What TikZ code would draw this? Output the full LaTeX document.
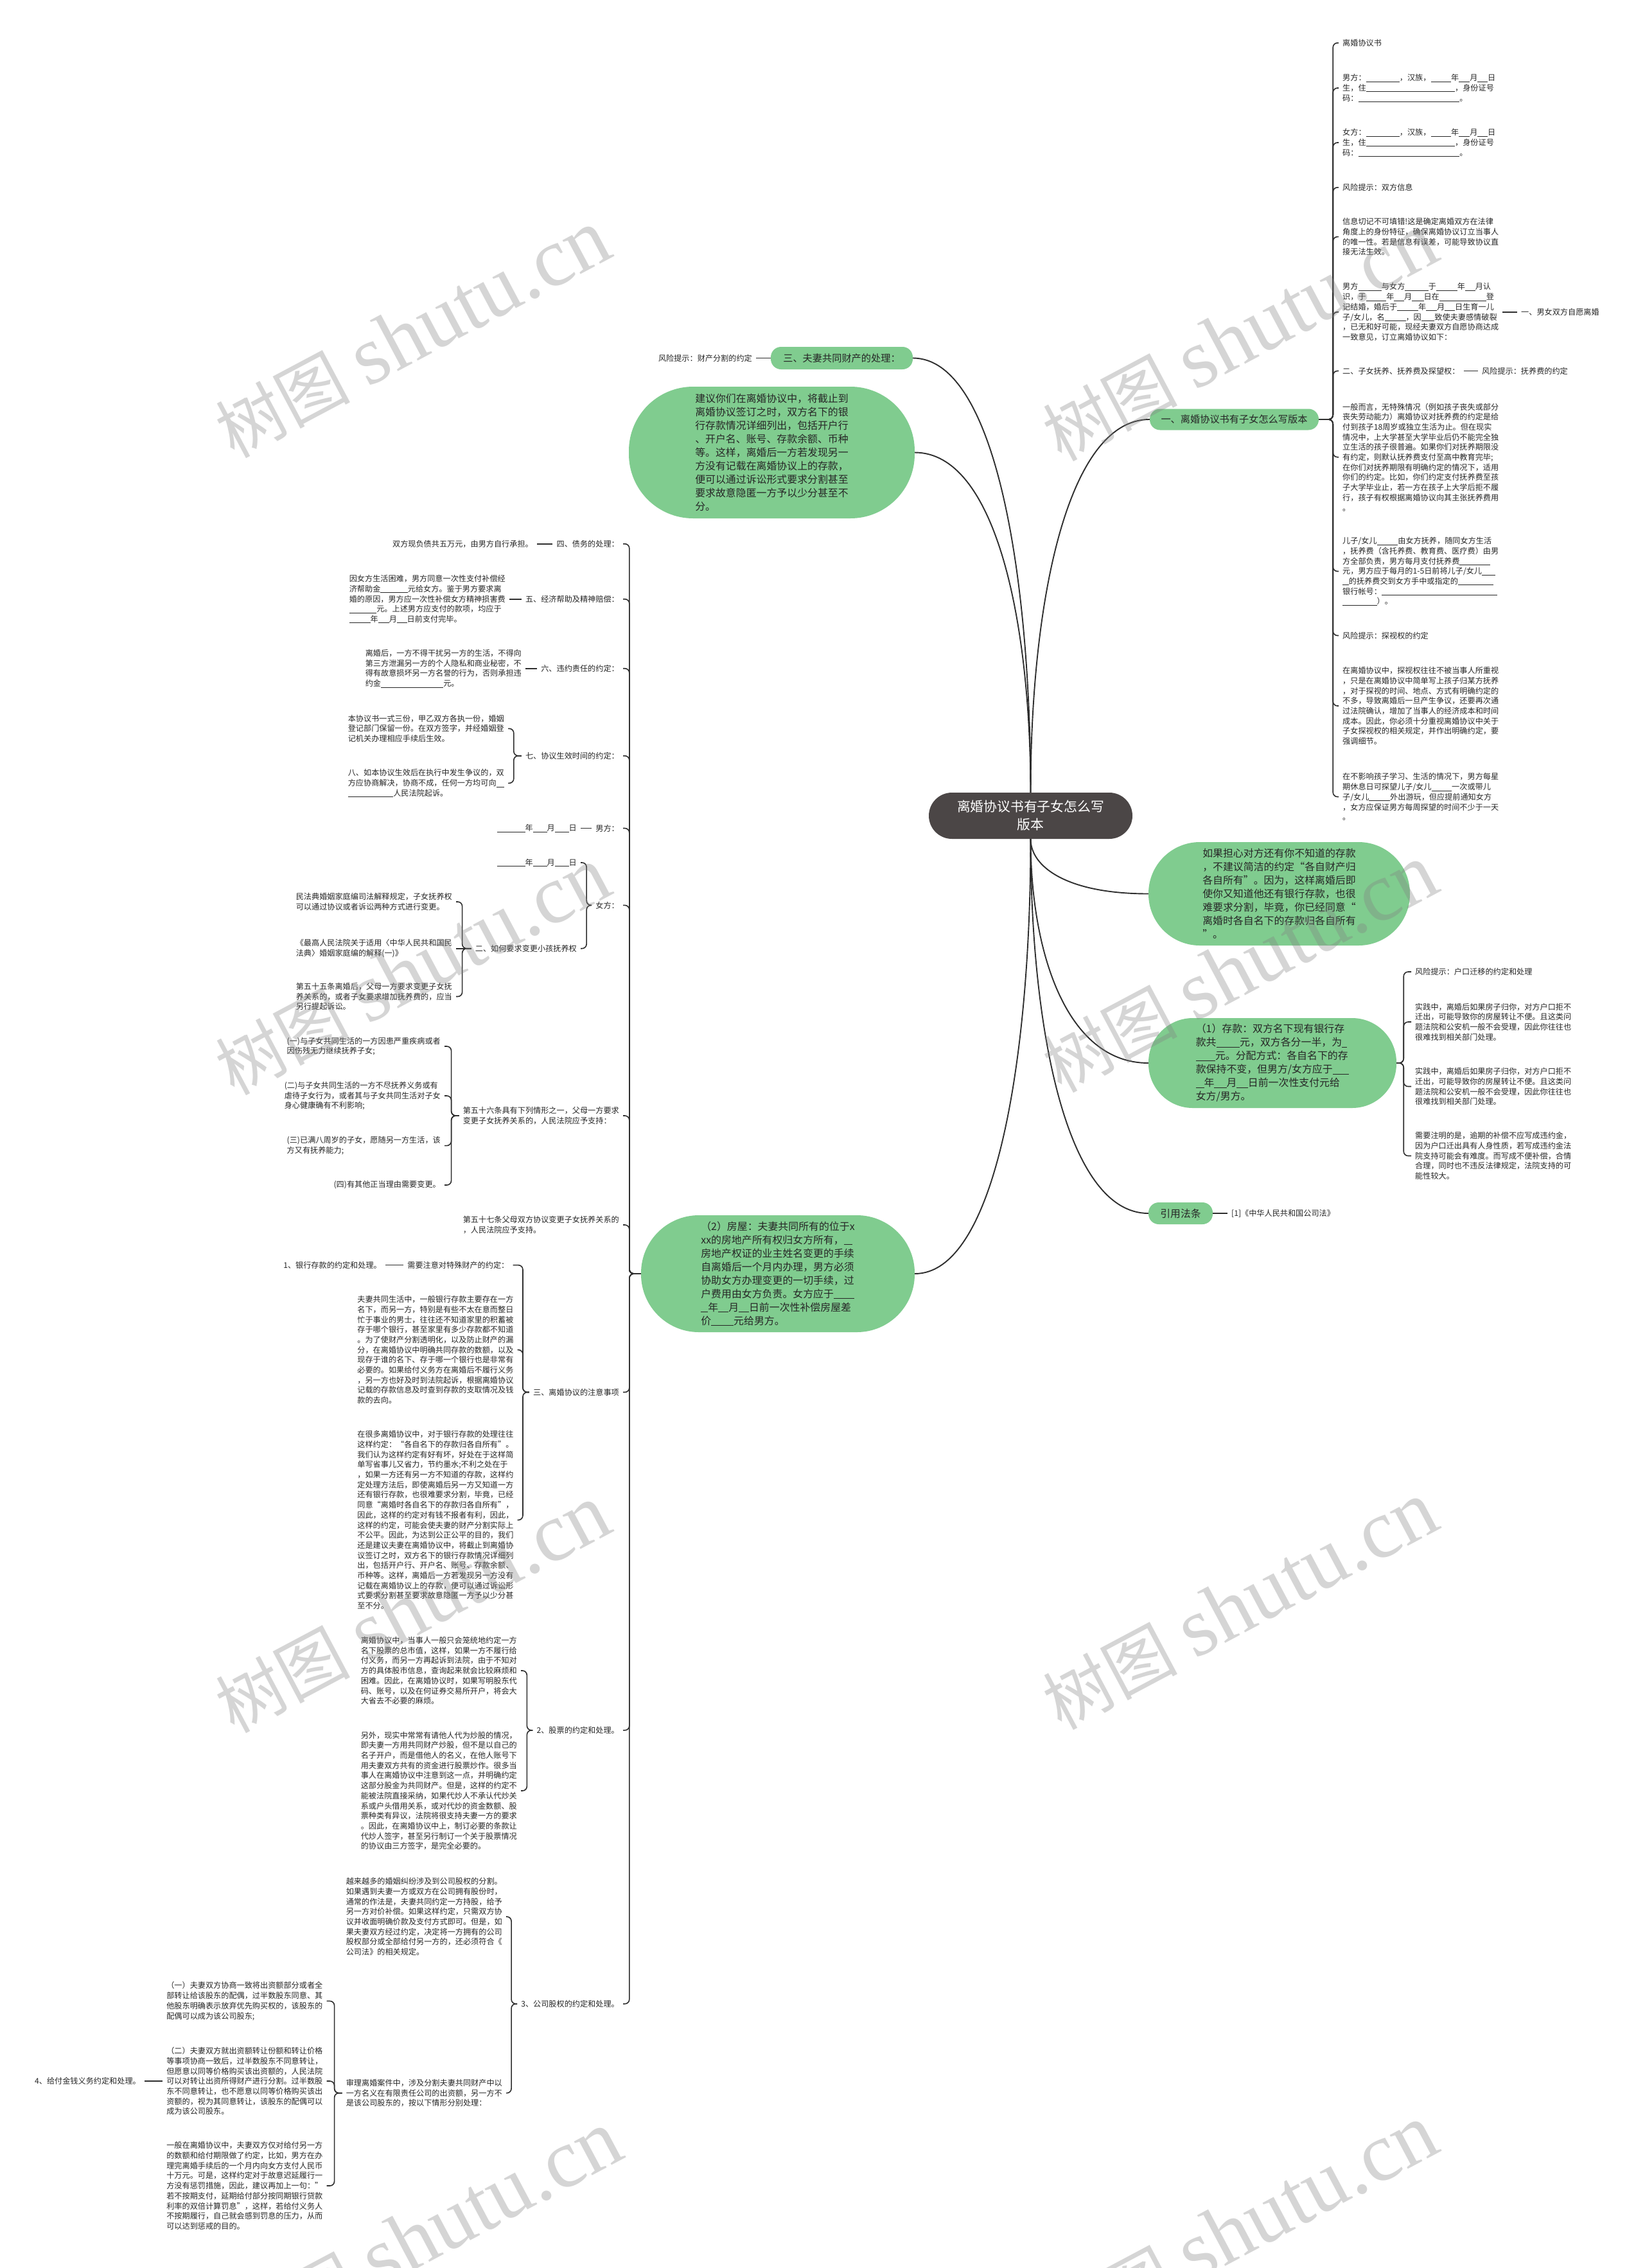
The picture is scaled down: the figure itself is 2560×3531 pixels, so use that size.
\documentclass[tikz,border=0pt]{standalone}
\usepackage{fontspec}
\setmainfont{Noto Sans CJK SC}
\newfontfamily\wmlat{Liberation Serif}
\usetikzlibrary{calc}
\definecolor{bubgreen}{HTML}{80CC8F}
\definecolor{rootfill}{HTML}{4B4646}
\definecolor{linec}{HTML}{2E2E2E}
\definecolor{txtc}{HTML}{262626}
\newcommand\bl[1]{\rule[-1.6pt]{#1em}{0.7pt}}
\newcommand\rbr[3]{\draw[conn] (#1.east) -- ++(#3,0) |- (#2.west);}
\newcommand\lbr[3]{\draw[conn] (#1.west) -- ++(-#3,0) |- (#2.east);}
\newcommand\redge[2]{\draw[edge] (#1) .. controls ($(#1)!0.5!(#1|-#2)$) and ($(#1|-#2)!0.3!(#2)$) .. (#2);}
\begin{document}
\begin{tikzpicture}[x=1pt,y=-1pt,
  txt/.style={font=\fontsize{12.15}{15.7}\selectfont, align=left, inner xsep=6pt, inner ysep=2pt, text=txtc},
  bub/.style={fill=bubgreen, font=\fontsize{15.9}{21}\selectfont, align=left, inner sep=0pt, text=txtc},
  pill/.style={fill=bubgreen, font=\fontsize{15.2}{18}\selectfont, inner sep=0pt, rounded corners=16pt, text=txtc},
  conn/.style={draw=linec, line width=1.6pt, rounded corners=7pt},
  edge/.style={draw=linec, line width=1.9pt},
  wm/.style={text=gray, opacity=0.33, rotate=28, font=\fontsize{105}{105}\selectfont, inner sep=0pt}]
\fill[white] (0,0) rectangle (2560,3531);
\useasboundingbox (0,0) rectangle (2560,3531);

% root
\node[fill=rootfill, text=white, rounded corners=36pt, minimum width=317pt, minimum height=72pt, align=center, font=\fontsize{20.8}{28}\selectfont, inner sep=0pt] (root) at (1604.5,1270) {离婚协议书有子女怎么写\\版本};

% ---------- right upper branch ----------
\node[pill, minimum width=263pt, minimum height=33pt] (pr) at (1921.5,653) {一、离婚协议书有子女怎么写版本};
\node[txt,anchor=west] (r1) at (2084,66.8) {离婚协议书};
\node[txt,anchor=west] (r2) at (2084,137) {男方：\bl{4.3}，汉族，\bl{2.6}年\bl{1.4}月\bl{1.3}日\\生，住\bl{11.4}，身份证号\\码：\bl{13}。};
\node[txt,anchor=west] (r3) at (2084,222) {女方：\bl{4.3}，汉族，\bl{2.6}年\bl{1.4}月\bl{1.3}日\\生，住\bl{11.4}，身份证号\\码：\bl{13}。};
\node[txt,anchor=west] (r4) at (2084,291.8) {风险提示：双方信息};
\node[txt,anchor=west] (r5) at (2084,368.6) {信息切记不可填错!这是确定离婚双方在法律\\角度上的身份特征，确保离婚协议订立当事人\\的唯一性。若是信息有误差，可能导致协议直\\接无法生效。};
\node[txt,anchor=west] (r6) at (2084,485.7) {男方\bl{3}与女方\bl{3}于\bl{2.7}年\bl{1.3}月认\\识，于\bl{2.6}年\bl{1.3}月\bl{1.5}日在\bl{6}登\\记结婚，婚后于\bl{2.7}年\bl{1.4}月\bl{1.3}日生育一儿\\子/女儿，名\bl{2.7}，因\bl{1.7}致使夫妻感情破裂\\，已无和好可能，现经夫妻双方自愿协商达成\\一致意见，订立离婚协议如下：};
\node[txt,anchor=west] (r6a) at (2362,485.7) {一、男女双方自愿离婚};
\node[txt,anchor=west] (r7) at (2084,577.5) {二、子女抚养、抚养费及探望权：};
\node[txt,anchor=west] (r7a) at (2301,577.5) {风险提示：抚养费的约定};
\node[txt,anchor=west] (r8) at (2084,711.7) {一般而言，无特殊情况（例如孩子丧失或部分\\丧失劳动能力）离婚协议对抚养费的约定是给\\付到孩子18周岁或独立生活为止。但在现实\\情况中，上大学甚至大学毕业后仍不能完全独\\立生活的孩子很普遍。如果你们对抚养期限没\\有约定，则默认抚养费支付至高中教育完毕;\\在你们对抚养期限有明确约定的情况下，适用\\你们的约定。比如，你们约定支付抚养费至孩\\子大学毕业止，若一方在孩子上大学后拒不履\\行，孩子有权根据离婚协议向其主张抚养费用\\。};
\node[txt,anchor=west] (r9) at (2084,889.5) {儿子/女儿\bl{2.7}由女方抚养，随同女方生活\\，抚养费（含托养费、教育费、医疗费）由男\\方全部负责，男方每月支付抚养费\bl{3.9}\\元，男方应于每月的1-5日前将儿子/女儿\bl{1.7}\\\bl{0.8}的抚养费交到女方手中或指定的\bl{4.5}\\银行帐号：\bl{14.8}\\\bl{4.4}）。};
\node[txt,anchor=west] (r10) at (2084,989.5) {风险提示：探视权的约定};
\node[txt,anchor=west] (r11) at (2084,1099) {在离婚协议中，探视权往往不被当事人所重视\\，只是在离婚协议中简单写上孩子归某方抚养\\，对于探视的时间、地点、方式有明确约定的\\不多，导致离婚后一旦产生争议，还要再次通\\过法院确认，增加了当事人的经济成本和时间\\成本。因此，你必须十分重视离婚协议中关于\\子女探视权的相关规定，并作出明确约定，要\\强调细节。};
\node[txt,anchor=west] (r12) at (2084,1240.5) {在不影响孩子学习、生活的情况下，男方每星\\期休息日可探望儿子/女儿\bl{2.6}一次或带儿\\子/女儿\bl{2.7}外出游玩，但应提前通知女方\\，女方应保证男方每周探望的时间不少于一天\\。};
\foreach \c in {r1,r2,r3,r4,r5,r6,r7,r8,r9,r10,r11,r12} {\rbr{pr}{\c}{22}}
\draw[conn] (r6.east) -- (r6a.west);
\draw[conn] (r7.east) -- (r7a.west);

% ---------- right bubbles ----------
\node[bub, minimum width=407pt, minimum height=161pt, rounded corners=80pt] (b1) at (1991.5,1391.5) {如果担心对方还有你不知道的存款\\，不建议简洁的约定“各自财产归\\各自所有”。因为，这样离婚后即\\使你又知道他还有银行存款，也很\\难要求分割，毕竟，你已经同意“\\离婚时各自名下的存款归各自所有\\”。};
\node[bub, minimum width=386pt, minimum height=140pt, rounded corners=69pt] (b2) at (1981,1655) {（1）存款：双方名下现有银行存\\款共\bl{2.3}元，双方各分一半，为\bl{0.5}\\\bl{1.9}元。分配方式：各自名下的存\\款保持不变，但男方/女方应于\bl{1.6}\\\bl{0.8}年\bl{1.2}月\bl{1.1}日前一次性支付元给\\女方/男方。};
\node[txt,anchor=west] (s1) at (2197,1513) {风险提示：户口迁移的约定和处理};
\node[txt,anchor=west] (s2) at (2197,1591) {实践中，离婚后如果房子归你，对方户口拒不\\迁出，可能导致你的房屋转让不便。且这类问\\题法院和公安机一般不会受理，因此你往往也\\很难找到相关部门处理。};
\node[txt,anchor=west] (s3) at (2197,1691.5) {实践中，离婚后如果房子归你，对方户口拒不\\迁出，可能导致你的房屋转让不便。且这类问\\题法院和公安机一般不会受理，因此你往往也\\很难找到相关部门处理。};
\node[txt,anchor=west] (s4) at (2197,1799.5) {需要注明的是，逾期的补偿不应写成违约金，\\因为户口迁出具有人身性质，若写成违约金法\\院支持可能会有难度。而写成不便补偿，合情\\合理，同时也不违反法律规定，法院支持的可\\能性较大。};
\foreach \c in {s1,s2,s3,s4} {\rbr{b2}{\c}{11}}
\node[pill, minimum width=100pt, minimum height=34pt, font=\fontsize{15.8}{18}\selectfont] (yf) at (1838,1889) {引用法条};
\node[txt,anchor=west] (yf1) at (1911,1889) {[1]《中华人民共和国公司法》};
\draw[conn] (yf.east) -- (yf1.west);

% ---------- left upper ----------
\node[pill, minimum width=221pt, minimum height=35pt] (p3) at (1310.5,557.5) {三、夫妻共同财产的处理：};
\node[txt,anchor=east] (p3a) at (1177,557.5) {风险提示：财产分割的约定};
\draw[conn] (p3.west) -- (p3a.east);
\node[bub, minimum width=445pt, minimum height=205pt, rounded corners=100pt] (b3) at (1201.5,704.5) {建议你们在离婚协议中，将截止到\\离婚协议签订之时，双方名下的银\\行存款情况详细列出，包括开户行\\、开户名、账号、存款余额、币种\\等。这样，离婚后一方若发现另一\\方没有记载在离婚协议上的存款，\\便可以通过诉讼形式要求分割甚至\\要求故意隐匿一方予以少分甚至不\\分。};

% ---------- left lower big branch ----------
\node[bub, minimum width=426pt, minimum height=182pt, rounded corners=90pt] (b4) at (1211,1983) {（2）房屋：夫妻共同所有的位于x\\xx的房地产所有权归女方所有，\bl{0.8}\\房地产权证的业主姓名变更的手续\\自离婚后一个月内办理，男方必须\\协助女方办理变更的一切手续，过\\户费用由女方负责。女方应于\bl{2}\\\bl{0.7}年\bl{1}月\bl{1}日前一次性补偿房屋差\\价\bl{2.2}元给男方。};

\node[txt,anchor=east] (l1) at (970,846.7) {四、债务的处理：};
\node[txt,anchor=east] (l1a) at (836,846.7) {双方现负债共五万元，由男方自行承担。};
\node[txt,anchor=east] (l2) at (970,932.7) {五、经济帮助及精神赔偿：};
\node[txt,anchor=east] (l2a) at (793,932.7) {因女方生活困难，男方同意一次性支付补偿经\\济帮助金\bl{3.5}元给女方。鉴于男方要求离\\婚的原因，男方应一次性补偿女方精神损害费\\\bl{3.5}元。上述男方应支付的款项，均应于\\\bl{2.7}年\bl{1.4}月\bl{1.3}日前支付完毕。};
\node[txt,anchor=east] (l3) at (970,1040.7) {六、违约责任的约定：};
\node[txt,anchor=east] (l3a) at (818,1040.7) {离婚后，一方不得干扰另一方的生活，不得向\\第三方泄漏另一方的个人隐私和商业秘密，不\\得有故意损坏另一方名誉的行为，否则承担违\\约金\bl{8}元。};
\node[txt,anchor=east] (l4) at (970,1176.7) {七、协议生效时间的约定：};
\node[txt,anchor=east] (l4a) at (791,1134.3) {本协议书一式三份，甲乙双方各执一份，婚姻\\登记部门保留一份。在双方签字，并经婚姻登\\记机关办理相应手续后生效。};
\node[txt,anchor=east] (l4b) at (791,1219.3) {八、如本协议生效后在执行中发生争议的，双\\方应协商解决，协商不成，任何一方均可向\bl{1}\\\bl{5.8}人民法院起诉。};
\node[txt,anchor=east] (l5) at (970,1289.5) {男方：};
\node[txt,anchor=east] (l5a) at (904,1289.5) {\bl{3.6}年\bl{1.8}月\bl{1.8}日};
\node[txt,anchor=east] (l6) at (970,1409.4) {女方：};
\node[txt,anchor=east] (l6a) at (904,1343) {\bl{3.6}年\bl{1.8}月\bl{1.8}日};
\node[txt,anchor=east] (l6b) at (904,1476.7) {二、如何要求变更小孩抚养权};
\node[txt,anchor=east] (m1) at (710,1404) {民法典婚姻家庭编司法解释规定，子女抚养权\\可以通过协议或者诉讼两种方式进行变更。};
\node[txt,anchor=east] (m2) at (710,1476.7) {《最高人民法院关于适用〈中华人民共和国民\\法典〉婚姻家庭编的解释(一)》};
\node[txt,anchor=east] (m3) at (710,1551.5) {第五十五条离婚后，父母一方要求变更子女抚\\养关系的，或者子女要求增加抚养费的，应当\\另行提起诉讼。};
\node[txt,anchor=east] (l7) at (970,1737) {第五十六条具有下列情形之一，父母一方要求\\变更子女抚养关系的，人民法院应予支持：};
\node[txt,anchor=east] (n1) at (692,1629) {(一)与子女共同生活的一方因患严重疾病或者\\因伤残无力继续抚养子女;};
\node[txt,anchor=east] (n2) at (692,1706) {(二)与子女共同生活的一方不尽抚养义务或有\\虐待子女行为，或者其与子女共同生活对子女\\身心健康确有不利影响;};
\node[txt,anchor=east] (n3) at (692,1783.6) {(三)已满八周岁的子女，愿随另一方生活，该\\方又有抚养能力;};
\node[txt,anchor=east] (n4) at (692,1845) {(四)有其他正当理由需要变更。};
\node[txt,anchor=east] (l8) at (970,1907) {第五十七条父母双方协议变更子女抚养关系的\\，人民法院应予支持。};
\node[txt,anchor=east] (l9) at (970,2167.5) {三、离婚协议的注意事项};
\node[txt,anchor=east] (o1) at (798.5,1969.6) {需要注意对特殊财产的约定：};
\node[txt,anchor=east] (o1a) at (600,1969.6) {1、银行存款的约定和处理。};
\node[txt,anchor=east] (o2) at (805.6,2101.5) {夫妻共同生活中，一般银行存款主要存在一方\\名下，而另一方，特别是有些不太在意而整日\\忙于事业的男士，往往还不知道家里的积蓄被\\存于哪个银行，甚至家里有多少存款都不知道\\。为了使财产分割透明化，以及防止财产的漏\\分，在离婚协议中明确共同存款的数额，以及\\现存于谁的名下、存于哪一个银行也是非常有\\必要的。如果给付义务方在离婚后不履行义务\\，另一方也好及时到法院起诉，根据离婚协议\\记载的存款信息及时查到存款的支取情况及钱\\款的去向。};
\node[txt,anchor=east] (o3) at (805.6,2366.5) {在很多离婚协议中，对于银行存款的处理往往\\这样约定：“各自名下的存款归各自所有”。\\我们认为这样约定有好有坏，好处在于这样简\\单写省事儿又省力，节约墨水;不利之处在于\\，如果一方还有另一方不知道的存款，这样约\\定处理方法后，即使离婚后另一方又知道一方\\还有银行存款，也很难要求分割，毕竟，已经\\同意“离婚时各自名下的存款归各自所有”，\\因此，这样的约定对有钱不报者有利，因此，\\这样的约定，可能会使夫妻的财产分割实际上\\不公平。因此，为达到公正公平的目的，我们\\还是建议夫妻在离婚协议中，将截止到离婚协\\议签订之时，双方名下的银行存款情况详细列\\出，包括开户行、开户名、账号、存款余额、\\币种等。这样，离婚后一方若发现另一方没有\\记载在离婚协议上的存款，便可以通过诉讼形\\式要求分割甚至要求故意隐匿一方予以少分甚\\至不分。};
\node[txt,anchor=east] (l10) at (970,2693.8) {2、股票的约定和处理。};
\node[txt,anchor=east] (q1) at (811,2601) {离婚协议中，当事人一般只会笼统地约定一方\\名下股票的总市值，这样，如果一方不履行给\\付义务，而另一方再起诉到法院，由于不知对\\方的具体股市信息，查询起来就会比较麻烦和\\困难。因此，在离婚协议时，如果写明股东代\\码、账号，以及在何证券交易所开户，将会大\\大省去不必要的麻烦。};
\node[txt,anchor=east] (q2) at (811,2788) {另外，现实中常常有请他人代为炒股的情况，\\即夫妻一方用共同财产炒股，但不是以自己的\\名子开户，而是借他人的名义，在他人账号下\\用夫妻双方共有的资金进行股票炒作。很多当\\事人在离婚协议中注意到这一点，并明确约定\\这部分股金为共同财产。但是，这样的约定不\\能被法院直接采纳，如果代炒人不承认代炒关\\系或户头借用关系，或对代炒的资金数额、股\\票种类有异议，法院将很支持夫妻一方的要求\\。因此，在离婚协议中上，制订必要的条款让\\代炒人签字，甚至另行制订一个关于股票情况\\的协议由三方签字，是完全必要的。};
\node[txt,anchor=east] (l11) at (970,3119.7) {3、公司股权的约定和处理。};
\node[txt,anchor=east] (t1) at (788,2984) {越来越多的婚姻纠纷涉及到公司股权的分割。\\如果遇到夫妻一方或双方在公司拥有股份时，\\通常的作法是，夫妻共同约定一方持股，给予\\另一方对价补偿。如果这样约定，只需双方协\\议并收面明确价款及支付方式即可。但是，如\\果夫妻双方经过约定，决定将一方拥有的公司\\股权部分或全部给付另一方的，还必须符合《\\公司法》的相关规定。};
\node[txt,anchor=east] (t2) at (788,3258.6) {审理离婚案件中，涉及分割夫妻共同财产中以\\一方名义在有限责任公司的出资额，另一方不\\是该公司股东的，按以下情形分别处理：};
\node[txt,anchor=east] (u1) at (508.5,3115.4) {（一）夫妻双方协商一致将出资额部分或者全\\部转让给该股东的配偶，过半数股东同意、其\\他股东明确表示放弃优先购买权的，该股东的\\配偶可以成为该公司股东;};
\node[txt,anchor=east] (u2) at (508.5,3240) {（二）夫妻双方就出资额转让份额和转让价格\\等事项协商一致后，过半数股东不同意转让，\\但愿意以同等价格购买该出资额的，人民法院\\可以对转让出资所得财产进行分割。过半数股\\东不同意转让，也不愿意以同等价格购买该出\\资额的，视为其同意转让，该股东的配偶可以\\成为该公司股东。};
\node[txt,anchor=east] (u3) at (508.5,3403) {一般在离婚协议中，夫妻双方仅对给付另一方\\的数额和给付期限做了约定，比如，男方在办\\理完离婚手续后的一个月内向女方支付人民币\\十万元。可是，这样约定对于故意迟延履行一\\方没有惩罚措施，因此，建议再加上一句：”\\若不按期支付，延期给付部分按同期银行贷款\\利率的双倍计算罚息”，这样，若给付义务人\\不按期履行，自己就会感到罚息的压力，从而\\可以达到惩戒的目的。};
\node[txt,anchor=east] (u2a) at (225,3240) {4、给付金钱义务约定和处理。};

% left connectors
\foreach \c in {l1,l2,l3,l4,l5,l6,l7,l8,l9,l10,l11} {\lbr{b4}{\c}{18}}
\draw[conn] (l1.west) -- (l1a.east);
\draw[conn] (l2.west) -- (l2a.east);
\draw[conn] (l3.west) -- (l3a.east);
\lbr{l4}{l4a}{12}
\lbr{l4}{l4b}{12}
\draw[conn] (l5.west) -- (l5a.east);
\lbr{l6}{l6a}{8}
\lbr{l6}{l6b}{8}
\lbr{l6b}{m1}{14}
\draw[conn] (l6b.west) -- (m2.east);
\lbr{l6b}{m3}{14}
\foreach \c in {n1,n2,n3,n4} {\lbr{l7}{\c}{12}}
\foreach \c in {o1,o2,o3} {\lbr{l9}{\c}{10}}
\draw[conn] (o1.west) -- (o1a.east);
\foreach \c in {q1,q2} {\lbr{l10}{\c}{9}}
\foreach \c in {t1,t2} {\lbr{l11}{\c}{9}}
\foreach \c in {u1,u2,u3} {\lbr{t2}{\c}{12}}
\draw[conn] (u2.west) -- (u2a.east);

% root edges
\redge{root.north}{pr.west}
\redge{root.north}{p3.east}
\redge{root.north}{b3.east}
\redge{root.south}{b1.west}
\redge{root.south}{b2.west}
\redge{root.south}{yf.west}
\redge{root.south}{b4.east}

% watermarks
\node[wm] (wm1) at (642,520) {树图\hspace{0.25em}{\wmlat\fontsize{130}{130}\selectfont shutu.cn}};
\node[wm] (wm2) at (1930,525) {树图\hspace{0.25em}{\wmlat\fontsize{130}{130}\selectfont shutu.cn}};
\node[wm] (wm3) at (642,1512) {树图\hspace{0.25em}{\wmlat\fontsize{130}{130}\selectfont shutu.cn}};
\node[wm] (wm4) at (1930,1508) {树图\hspace{0.25em}{\wmlat\fontsize{130}{130}\selectfont shutu.cn}};
\node[wm] (wm5) at (642,2505) {树图\hspace{0.25em}{\wmlat\fontsize{130}{130}\selectfont shutu.cn}};
\node[wm] (wm6) at (1930,2500) {树图\hspace{0.25em}{\wmlat\fontsize{130}{130}\selectfont shutu.cn}};
\node[wm] (wm7) at (660,3480) {树图\hspace{0.25em}{\wmlat\fontsize{130}{130}\selectfont shutu.cn}};
\node[wm] (wm8) at (1930,3470) {树图\hspace{0.25em}{\wmlat\fontsize{130}{130}\selectfont shutu.cn}};
\end{tikzpicture}
\end{document}
